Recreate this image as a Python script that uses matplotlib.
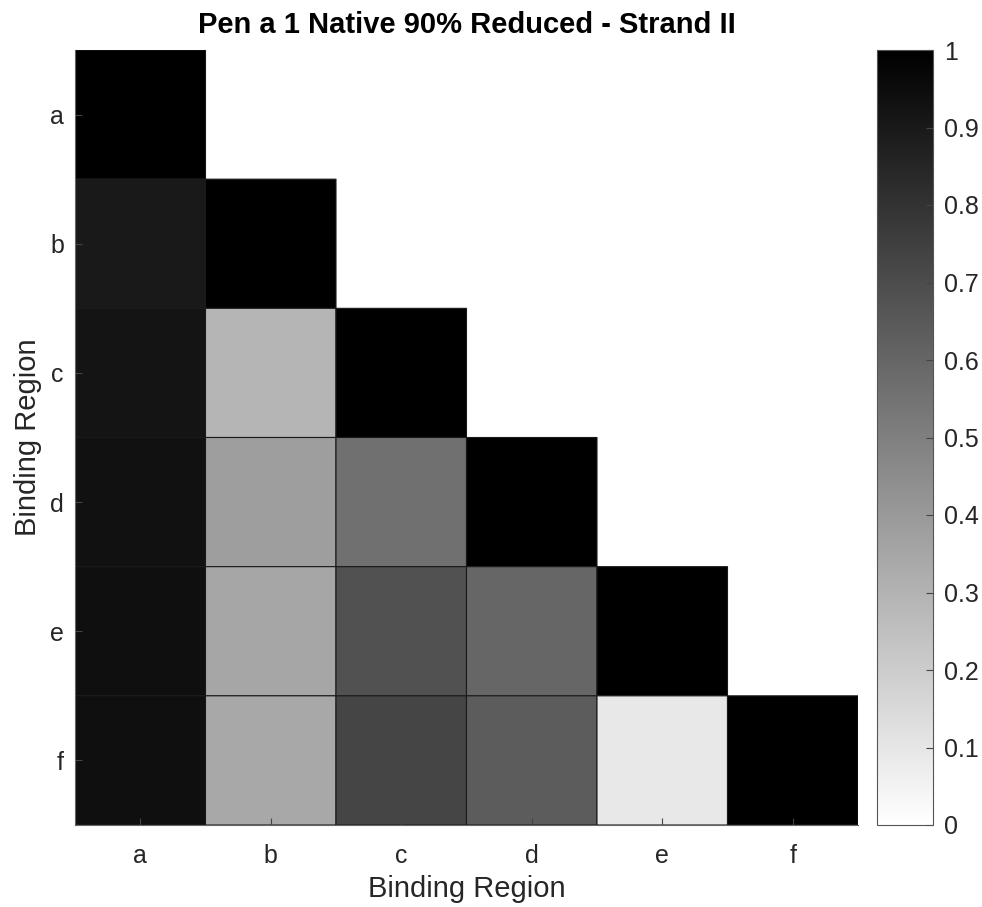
import numpy as np
import matplotlib.pyplot as plt

plt.rcParams['font.family'] = ['Liberation Sans', 'DejaVu Sans']

regions = ['a', 'b', 'c', 'd', 'e', 'f']
# lower triangle, row by row (row = y region, col = x region)
row_a = [1.00]
row_b = [0.90, 1.00]
row_c = [0.92, 0.29, 1.00]
row_d = [0.93, 0.38, 0.56, 1.00]
row_e = [0.94, 0.35, 0.68, 0.60, 1.00]
row_f = [0.94, 0.34, 0.73, 0.64, 0.09, 1.00]
rows = [row_a, row_b, row_c, row_d, row_e, row_f]

n = len(regions)
mat = np.full((n, n), np.nan)
for i, r in enumerate(rows):
    mat[i, :len(r)] = r
masked = np.ma.masked_invalid(mat)

fig = plt.figure(figsize=(9.82, 9.07), dpi=100)
ax = fig.add_axes([75/982, 1 - 825/907, (858-75)/982, (825-50)/907])
cax = fig.add_axes([877/982, 1 - 825/907, (933-877)/982, (825-50)/907])

# pcolor skips masked cells, so the upper triangle stays blank
mesh = ax.pcolor(np.arange(n + 1), np.arange(n + 1), masked, cmap='gray_r',
                 vmin=0, vmax=1, edgecolor='#1a1a1a', linewidth=0.8)
ax.set_xlim(0, n)
ax.set_ylim(n, 0)
ax.set_xticks(np.arange(n) + 0.5)
ax.set_yticks(np.arange(n) + 0.5)
ax.set_xticklabels(regions, fontsize=18, color='#262626')
ax.set_yticklabels(regions, fontsize=18, color='#262626')
ax.tick_params(direction='in', length=5, color='#444444')
ax.tick_params(axis='x', pad=14)
ax.tick_params(axis='y', pad=8)
for s in ['top', 'right']:
    ax.spines[s].set_visible(False)
for s in ['left', 'bottom']:
    ax.spines[s].set_color('#666666')
    ax.spines[s].set_linewidth(0.8)
ax.set_xlabel('Binding Region', fontsize=21, color='#262626', labelpad=5)
ax.set_ylabel('Binding Region', fontsize=21, color='#262626', labelpad=6)
ax.set_title('Pen a 1 Native 90% Reduced - Strand II', fontsize=21,
             fontweight='bold', pad=12)

cb = fig.colorbar(mesh, cax=cax)
cb.set_ticks(np.round(np.arange(0, 1.01, 0.1), 1))
cb.set_ticklabels(['0', '0.1', '0.2', '0.3', '0.4', '0.5', '0.6', '0.7', '0.8', '0.9', '1'])
cb.ax.tick_params(direction='in', length=5, labelsize=18, labelcolor='#262626',
                  color='#444444', pad=8)
cb.outline.set_edgecolor('#555555')
cb.outline.set_linewidth(0.8)

fig.savefig('out.png', dpi=100)
